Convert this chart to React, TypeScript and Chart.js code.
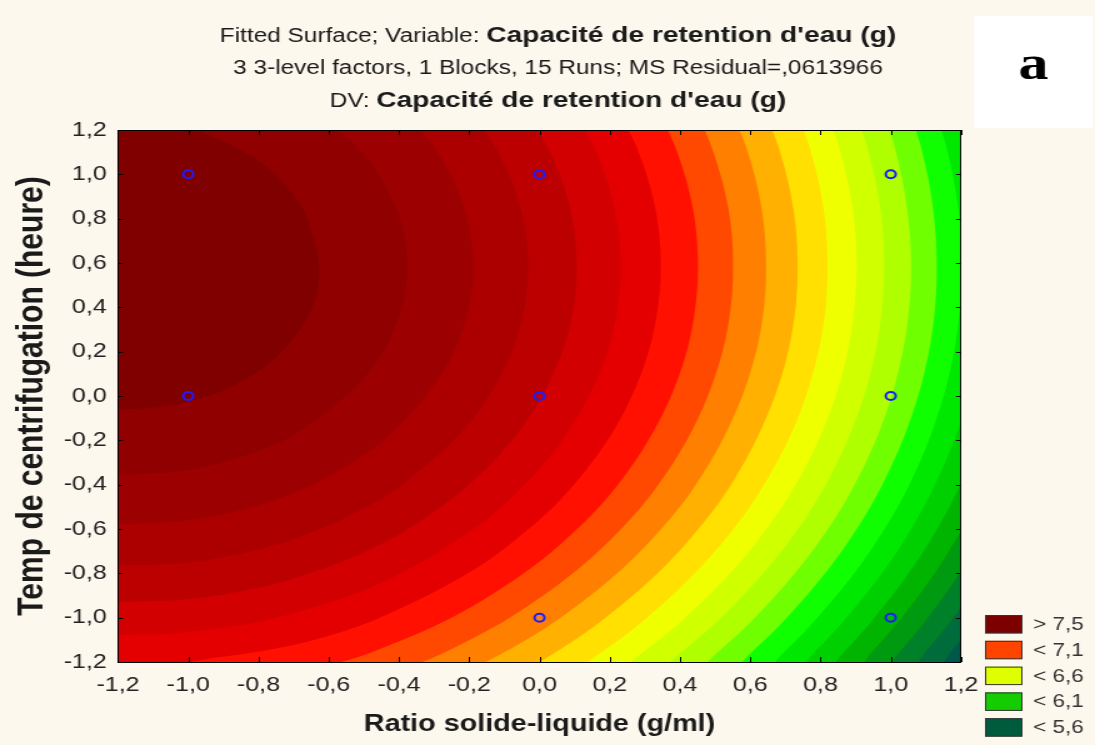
import React, { useEffect, useRef } from 'react';
import { Chart, registerables } from 'chart.js';

Chart.register(...registerables);

// ---------- data ----------
// contour boundaries (x = Ratio solide-liquide, y = Temp de centrifugation), highest level first
const contour01 = [[-1.04,1.3],[-0.97,1.2],[-0.9,1.15],[-0.79,1.05],[-0.722,0.95],[-0.675,0.85],[-0.645,0.72],[-0.628,0.6],[-0.632,0.48],[-0.655,0.37],[-0.691,0.28],[-0.74,0.19],[-0.802,0.11],[-0.893,0.03],[-0.96,-0.01],[-1.08,-0.05],[-1.2,-0.062],[-1.3,-0.065]];
const contour02 = [[-0.655,1.3],[-0.506,1.1],[-0.409,0.85],[-0.377,0.6],[-0.402,0.35],[-0.49,0.1],[-0.675,-0.15],[-0.8,-0.247],[-1.0,-0.334],[-1.2,-0.355],[-1.3,-0.36]];
const contour03 = [[-0.396,1.3],[-0.29,1.1],[-0.215,0.85],[-0.189,0.6],[-0.209,0.35],[-0.278,0.1],[-0.409,-0.15],[-0.533,-0.3],[-0.647,-0.4],[-0.8,-0.493],[-1.0,-0.561],[-1.2,-0.578],[-1.3,-0.58]];
const contour04 = [[-0.204,1.3],[-0.118,1.1],[-0.054,0.85],[-0.032,0.6],[-0.049,0.35],[-0.108,0.1],[-0.215,-0.15],[-0.391,-0.4],[-0.492,-0.5],[-0.624,-0.6],[-0.8,-0.692],[-1.0,-0.751],[-1.2,-0.765],[-1.3,-0.77]];
const contour05 = [[-0.045,1.3],[0.03,1.1],[0.087,0.85],[0.106,0.6],[0.091,0.35],[0.039,0.1],[-0.054,-0.15],[-0.201,-0.4],[-0.375,-0.6],[-0.495,-0.7],[-0.654,-0.8],[-0.8,-0.865],[-1.0,-0.916],[-1.2,-0.929],[-1.3,-0.93]];
const contour06 = [[0.095,1.3],[0.162,1.1],[0.213,0.85],[0.231,0.6],[0.217,0.35],[0.17,0.1],[0.086,-0.15],[-0.042,-0.4],[-0.188,-0.6],[-0.395,-0.8],[-0.54,-0.9],[-0.748,-1.0],[-0.9,-1.046],[-1.05,-1.071],[-1.2,-1.077],[-1.3,-1.077]];
const contour07 = [[0.22,1.3],[0.282,1.1],[0.329,0.85],[0.345,0.6],[0.332,0.35],[0.289,0.1],[0.213,-0.15],[0.098,-0.4],[-0.031,-0.6],[-0.204,-0.8],[-0.455,-1.0],[-0.641,-1.1],[-0.79,-1.15],[-1.0,-1.2],[-1.15,-1.26]];
const contour08 = [[0.335,1.3],[0.392,1.1],[0.436,0.85],[0.451,0.6],[0.439,0.35],[0.399,0.1],[0.328,-0.15],[0.223,-0.4],[0.107,-0.6],[-0.045,-0.8],[-0.251,-1.0],[-0.469,-1.15],[-0.565,-1.2],[-0.682,-1.25]];
const contour09 = [[0.442,1.3],[0.495,1.1],[0.537,0.85],[0.551,0.6],[0.54,0.35],[0.502,0.1],[0.436,-0.15],[0.338,-0.4],[0.232,-0.6],[0.095,-0.8],[-0.085,-1.0],[-0.262,-1.15],[-0.334,-1.2],[-0.507,-1.3]];
const contour10 = [[0.542,1.3],[0.593,1.1],[0.632,0.85],[0.645,0.6],[0.635,0.35],[0.599,0.1],[0.536,-0.15],[0.445,-0.4],[0.346,-0.6],[0.221,-0.8],[0.06,-1.0],[-0.094,-1.15],[-0.291,-1.3]];
const contour11 = [[0.637,1.3],[0.685,1.1],[0.722,0.85],[0.735,0.6],[0.725,0.35],[0.691,0.1],[0.631,-0.15],[0.545,-0.4],[0.452,-0.6],[0.336,-0.8],[0.188,-1.0],[0.051,-1.15],[-0.118,-1.3]];
const contour12 = [[0.727,1.3],[0.773,1.1],[0.808,0.85],[0.82,0.6],[0.811,0.35],[0.778,0.1],[0.722,-0.15],[0.639,-0.4],[0.552,-0.6],[0.442,-0.8],[0.306,-1.0],[0.181,-1.15],[0.03,-1.3]];
const contour13 = [[0.813,1.3],[0.857,1.1],[0.891,0.85],[0.903,0.6],[0.893,0.35],[0.862,0.1],[0.808,-0.15],[0.729,-0.4],[0.646,-0.6],[0.543,-0.8],[0.415,-1.0],[0.299,-1.15],[0.161,-1.3]];
const contour14 = [[0.895,1.3],[0.937,1.1],[0.97,0.85],[0.981,0.6],[0.972,0.35],[0.942,0.1],[0.89,-0.15],[0.815,-0.4],[0.736,-0.6],[0.637,-0.8],[0.517,-1.0],[0.408,-1.15],[0.281,-1.3]];
const contour15 = [[0.975,1.3],[1.015,1.1],[1.046,0.85],[1.058,0.6],[1.049,0.35],[1.02,0.1],[0.97,-0.15],[0.897,-0.4],[0.821,-0.6],[0.727,-0.8],[0.613,-1.0],[0.511,-1.15],[0.392,-1.3]];
const contour16 = [[1.051,1.3],[1.09,1.1],[1.12,0.85],[1.131,0.6],[1.123,0.35],[1.095,0.1],[1.046,-0.15],[0.976,-0.4],[0.903,-0.6],[0.813,-0.8],[0.704,-1.0],[0.607,-1.15],[0.495,-1.3]];
const contour17 = [[1.125,1.3],[1.162,1.1],[1.192,0.85],[1.202,0.6],[1.194,0.35],[1.167,0.1],[1.12,-0.15],[1.053,-0.4],[0.982,-0.6],[0.896,-0.8],[0.791,-1.0],[0.699,-1.15],[0.592,-1.3]];
const contour18 = [[1.196,1.3],[1.233,1.1],[1.262,0.85],[1.274,0.6],[1.264,0.35],[1.237,0.1],[1.192,-0.15],[1.126,-0.4],[1.058,-0.6],[0.975,-0.8],[0.874,-1.0],[0.786,-1.15],[0.685,-1.3]];
const contour19 = [[1.339,0.6],[1.306,0.1],[1.261,-0.15],[1.198,-0.4],[1.132,-0.6],[1.051,-0.8],[0.954,-1.0],[0.869,-1.15],[0.772,-1.3]];
const contour20 = [[1.372,0.1],[1.329,-0.15],[1.267,-0.4],[1.203,-0.6],[1.125,-0.8],[1.031,-1.0],[0.949,-1.15],[0.856,-1.3]];
const contour21 = [[1.395,-0.15],[1.335,-0.4],[1.272,-0.6],[1.196,-0.8],[1.106,-1.0],[1.027,-1.15],[0.937,-1.3]];
const contour22 = [[1.4,-0.4],[1.34,-0.6],[1.266,-0.8],[1.178,-1.0],[1.101,-1.15],[1.015,-1.3]];
const contour23 = [[1.405,-0.6],[1.333,-0.8],[1.248,-1.0],[1.173,-1.15],[1.09,-1.3]];

const contours = [contour01, contour02, contour03, contour04, contour05, contour06, contour07, contour08,
  contour09, contour10, contour11, contour12, contour13, contour14, contour15, contour16, contour17,
  contour18, contour19, contour20, contour21, contour22, contour23];

// colour of the band just above each contour, last one = lowest band
const bandColors = ['#800000', '#900000', '#9c0000', '#ac0000', '#bc0000', '#d20000', '#e40000', '#ff1000',
  '#ff4800', '#ff7f00', '#ffb000', '#ffe000', '#f0ff00', '#d0ff00', '#b0ff00', '#70ff00', '#10ff00',
  '#00e800', '#00d000', '#00b400', '#009a10', '#008028', '#006c3c', '#005848'];

// experimental design points
const designX = [-1, 0, 1, -1, 0, 1, 0, 1];
const designY = [1, 1, 1, 0, 0, 0, -1, -1];

const legendLabels = ['> 7,5', '< 7,1', '< 6,6', '< 6,1', '< 5,6'];
const legendColors = ['#7c0000', '#ff4400', '#dfff00', '#14cc00', '#005a3c'];

const titleLine1 = ['Fitted Surface; Variable: ', "Capacité de retention d'eau (g)"];
const titleLine2 = '3 3-level factors, 1 Blocks, 15 Runs; MS Residual=,0613966';
const titleLine3 = ['DV: ', "Capacité de retention d'eau (g)"];
const xTitle = 'Ratio solide-liquide (g/ml)';
const yTitle = 'Temp de centrifugation (heure)';
const panelLetter = 'a';

// ---------- layout ----------
const CW = 876;   // canvas drawing width (stretched to 1095 on screen)
const CH = 745;
const FONT = '"Liberation Sans", Arial, sans-serif';
const BG = '#fdf8ed';

const fmt = (v: number) => {
  const n = Math.abs(v) < 1e-9 ? 0 : v;
  return n.toFixed(1).replace('.', ',');
};

const bgPlugin = {
  id: 'bg',
  beforeDraw(chart: any) {
    const ctx = chart.ctx;
    ctx.save();
    ctx.fillStyle = BG;
    ctx.fillRect(0, 0, chart.width, chart.height);
    ctx.restore();
  },
};

const framePlugin = {
  id: 'frame',
  afterDatasetsDraw(chart: any) {
    const { ctx, chartArea: a, scales } = chart;
    ctx.save();
    ctx.strokeStyle = '#000';
    ctx.lineWidth = 1;
    ctx.beginPath();
    scales.x.ticks.forEach((t: any) => {
      const px = Math.round(scales.x.getPixelForValue(t.value)) + 0.5;
      ctx.moveTo(px, a.top); ctx.lineTo(px, a.top + 5);
      ctx.moveTo(px, a.bottom); ctx.lineTo(px, a.bottom - 5);
    });
    scales.y.ticks.forEach((t: any) => {
      const py = Math.round(scales.y.getPixelForValue(t.value)) + 0.5;
      ctx.moveTo(a.left, py); ctx.lineTo(a.left + 4, py);
      ctx.moveTo(a.right, py); ctx.lineTo(a.right - 4, py);
    });
    ctx.stroke();
    ctx.strokeRect(Math.round(a.left) + 0.5, Math.round(a.top) + 0.5, Math.round(a.right - a.left), Math.round(a.bottom - a.top));
    ctx.restore();
  },
};

const drawMixed = (ctx: any, parts: [string, string][], cx: number, y: number) => {
  let total = 0;
  const widths = parts.map(([t, f]) => { ctx.font = f; const w = ctx.measureText(t).width; total += w; return w; });
  let x = cx - total / 2;
  parts.forEach(([t, f], i) => { ctx.font = f; ctx.fillText(t, x, y); x += widths[i]; });
};

const annotPlugin = {
  id: 'annot',
  afterDraw(chart: any) {
    const ctx = chart.ctx;
    ctx.save();
    const reg = `19.5px ${FONT}`;
    const bold = `bold 22.5px ${FONT}`;
    const cx = 446.4;
    ctx.textAlign = 'left';
    ctx.textBaseline = 'alphabetic';
    ctx.fillStyle = '#1a1a1a';
    drawMixed(ctx, [[titleLine1[0], reg], [titleLine1[1], bold]], cx, 42);
    drawMixed(ctx, [[titleLine2, reg]], cx, 74);
    drawMixed(ctx, [[titleLine3[0], reg], [titleLine3[1], bold]], cx, 106.5);

    // panel letter box
    ctx.fillStyle = '#ffffff';
    ctx.fillRect(779.2, 16, 95.2, 112);
    ctx.fillStyle = '#000';
    ctx.font = `bold 48px "Liberation Serif", "Times New Roman", serif`;
    ctx.textAlign = 'center';
    ctx.fillText(panelLetter, 826.7, 79);

    // legend
    const tops = [615, 640.8, 666.6, 692.4, 718.2];
    ctx.font = `18px ${FONT}`;
    ctx.textBaseline = 'middle';
    legendLabels.forEach((lab, i) => {
      ctx.fillStyle = legendColors[i];
      ctx.fillRect(788, tops[i], 29.6, 18.3);
      ctx.strokeStyle = '#333';
      ctx.lineWidth = 1;
      ctx.strokeRect(788.5, tops[i] + 0.5, 29, 17.5);
      ctx.fillStyle = '#333';
      ctx.textAlign = 'left';
      ctx.fillText(lab, 826.4, tops[i] + 10);
    });
    ctx.restore();
  },
};

export default function App() {
  const ref = useRef<HTMLCanvasElement | null>(null);

  useEffect(() => {
    if (!ref.current) return;
    const frame = [[-3, -3], [-3, 3], [3, 3]];
    const contourSets = contours.map((c, i) => ({
      type: 'line',
      label: `c${i + 1}`,
      data: [...c, ...frame, [3, c[0][1]]].map(([x, y]) => ({ x, y })),
      backgroundColor: bandColors[i],
      borderWidth: 0,
      pointRadius: 0,
      fill: 'shape',
      tension: 0.35,
      order: i + 1,
    }));
    const baseSet = {
      type: 'line',
      label: 'base',
      data: [[-3, -3], [3, -3], [3, 3], [-3, 3]].map(([x, y]) => ({ x, y })),
      backgroundColor: bandColors[bandColors.length - 1],
      borderWidth: 0,
      pointRadius: 0,
      fill: 'shape',
      tension: 0,
      order: 100,
    };
    const pointSet = {
      type: 'scatter',
      label: 'design',
      data: designX.map((x, i) => ({ x, y: designY[i] })),
      borderColor: '#1c1cff',
      backgroundColor: 'rgba(0,0,0,0)',
      borderWidth: 2,
      pointRadius: 4,
      pointHoverRadius: 4,
      order: 0,
    };

    const tickFont = { family: FONT, size: 20 };
    const chart = new Chart(ref.current, {
      type: 'line',
      data: { datasets: [pointSet, ...contourSets, baseSet] as any },
      options: {
        animation: false,
        responsive: false,
        devicePixelRatio: 1,
        events: [],
        layout: { padding: { left: 0, top: 130, right: 107.2, bottom: 0 } },
        elements: { line: { capBezierPoints: false } as any, point: { radius: 0 } },
        plugins: { legend: { display: false }, title: { display: false }, tooltip: { enabled: false } },
        scales: {
          x: {
            type: 'linear', min: -1.2, max: 1.2,
            grid: { display: false, drawTicks: false },
            border: { display: false },
            ticks: { stepSize: 0.2, autoSkip: false, maxRotation: 0, padding: 11, color: '#222', font: tickFont, callback: (v: any) => fmt(Number(v)) },
            title: { display: true, text: xTitle, color: '#1a1a1a', font: { family: FONT, size: 23, weight: 'bold' }, padding: { top: 0, bottom: 7 } },
            afterFit: (s: any) => { s.height = 83; },
          },
          y: {
            type: 'linear', min: -1.2, max: 1.2,
            grid: { display: false, drawTicks: false },
            border: { display: false },
            ticks: { stepSize: 0.2, autoSkip: false, padding: 9, color: '#222', font: tickFont, callback: (v: any) => fmt(Number(v)) },
            title: { display: true, text: yTitle, color: '#1a1a1a', font: { family: FONT, size: 30, weight: 'bold' }, padding: { top: 8, bottom: 0 } },
            afterFit: (s: any) => { s.width = 94.4; },
          },
        },
      } as any,
      plugins: [bgPlugin, framePlugin, annotPlugin],
    });
    return () => chart.destroy();
  }, []);

  return (
    <div style={{ position: 'fixed', left: 0, top: 0, width: 1095, height: 745, background: BG, overflow: 'hidden' }}>
      <canvas ref={ref} width={CW} height={CH} style={{ width: '1095px', height: '745px', display: 'block' }} />
    </div>
  );
}
